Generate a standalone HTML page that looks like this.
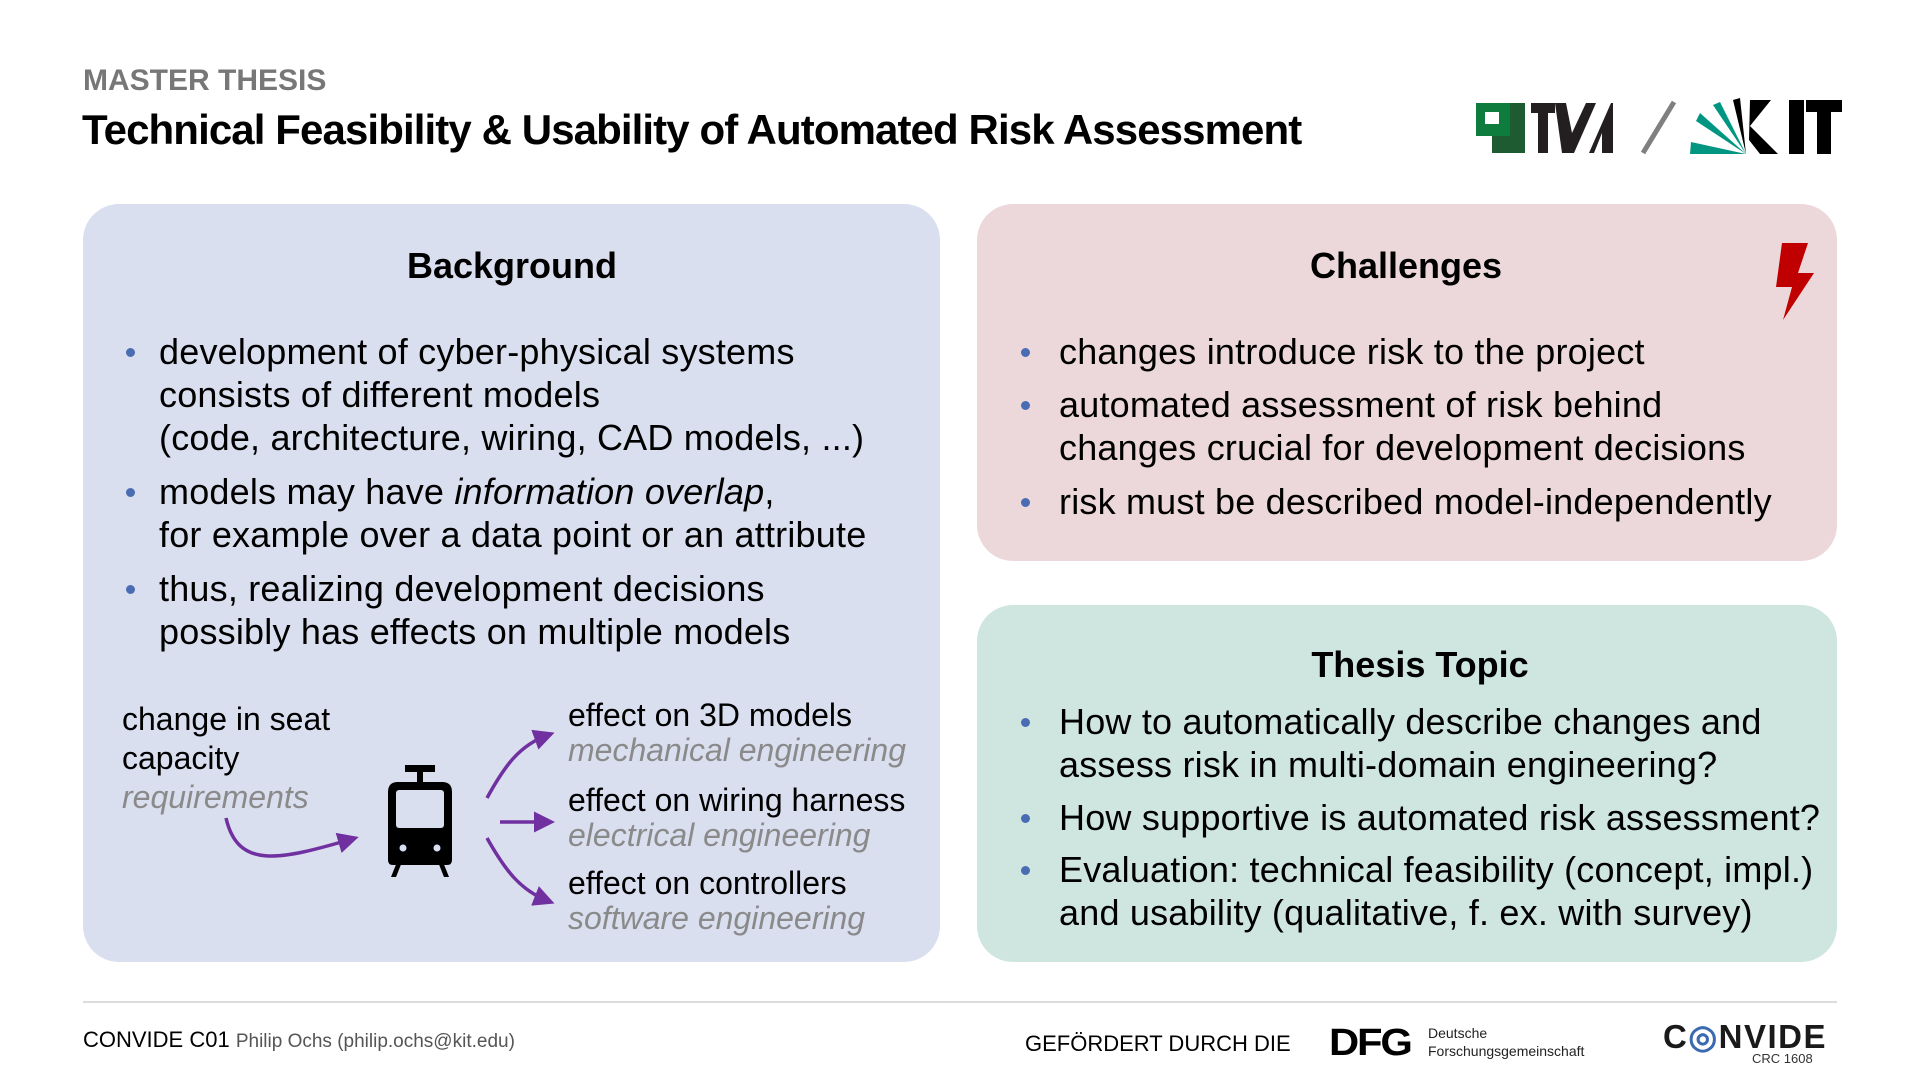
<!DOCTYPE html>
<html><head><meta charset="utf-8"><style>
body{margin:0;width:1920px;height:1080px;background:#fff;position:relative;overflow:hidden;font-family:"Liberation Sans",sans-serif;color:#000}
.a{position:absolute;white-space:nowrap}
.box{position:absolute;border-radius:36px}
.h{font-weight:bold;font-size:36px;transform:translateX(-50%)}
.t{font-size:36px;line-height:43px;letter-spacing:0.2px}
.d{position:absolute;width:9px;height:9px;border-radius:50%;background:#4a6cb3}
.g{color:#8a8a8a;font-style:italic}
.s{font-size:32px}
</style></head><body>
<div class="a" style="left:83px;top:64px;font-size:30px;font-weight:bold;color:#777">MASTER THESIS</div>
<div class="a" style="left:82px;top:106px;font-size:42px;font-weight:bold;letter-spacing:-0.9px">Technical Feasibility &amp; Usability of Automated Risk Assessment</div>

<div class="box" style="left:83px;top:204px;width:857px;height:758px;background:#dadfef"></div>
<div class="box" style="left:977px;top:204px;width:860px;height:357px;background:#ecd8da"></div>
<div class="box" style="left:977px;top:605px;width:860px;height:357px;background:#cfe5df"></div>

<div class="a h" style="left:512px;top:245px">Background</div>
<div class="a t" style="left:159px;top:330px">development of cyber-physical systems<br>consists of different models<br>(code, architecture, wiring, CAD models, ...)</div>
<div class="a t" style="left:159px;top:470px">models may have <i>information overlap</i>,<br>for example over a data point or an attribute</div>
<div class="a t" style="left:159px;top:567px">thus, realizing development decisions<br>possibly has effects on multiple models</div>
<div class="d" style="left:126px;top:348px"></div><div class="d" style="left:126px;top:488px"></div><div class="d" style="left:126px;top:585px"></div>

<div class="a h" style="left:1406px;top:245px">Challenges</div>
<div class="a t" style="left:1059px;top:330px">changes introduce risk to the project</div>
<div class="a t" style="left:1059px;top:383px">automated assessment of risk behind<br>changes crucial for development decisions</div>
<div class="a t" style="left:1059px;top:480px">risk must be described model-independently</div>
<div class="d" style="left:1021px;top:348px"></div><div class="d" style="left:1021px;top:401px"></div><div class="d" style="left:1021px;top:498px"></div>

<div class="a h" style="left:1420px;top:644px">Thesis Topic</div>
<div class="a t" style="left:1059px;top:700px">How to automatically describe changes and<br>assess risk in multi-domain engineering?</div>
<div class="a t" style="left:1059px;top:796px">How supportive is automated risk assessment?</div>
<div class="a t" style="left:1059px;top:848px">Evaluation: technical feasibility (concept, impl.)<br>and usability (qualitative, f. ex. with survey)</div>
<div class="d" style="left:1021px;top:718px"></div><div class="d" style="left:1021px;top:814px"></div><div class="d" style="left:1021px;top:866px"></div>

<div class="a s" style="left:122px;top:700px;line-height:39px">change in seat<br>capacity<br><span class="g">requirements</span></div>
<div class="a s" style="left:568px;top:698px;line-height:35px">effect on 3D models<br><span class="g">mechanical engineering</span></div>
<div class="a s" style="left:568px;top:783px;line-height:35px">effect on wiring harness<br><span class="g">electrical engineering</span></div>
<div class="a s" style="left:568px;top:866px;line-height:35px">effect on controllers<br><span class="g">software engineering</span></div>

<svg class="a" style="left:0;top:0" width="1920" height="1080">
<defs><marker id="ar" markerWidth="6" markerHeight="6" refX="4" refY="3" orient="auto"><path d="M0,0L6,3L0,6z" fill="#7030a0"/></marker></defs>
<g stroke="#7030a0" stroke-width="3.5" fill="none" marker-end="url(#ar)">
<path d="M226,818 C238,870 280,860 352,839"/>
<path d="M487,798 C505,765 520,745 548,735"/>
<path d="M500,822 L548,822"/>
<path d="M487,838 C505,870 520,890 548,901"/>
</g>
<g fill="#000">
<rect x="405" y="765" width="30" height="7"/><rect x="417" y="770" width="6" height="12"/>
<path d="M398,782 h44 q10,0 10,10 v68 q0,5 -5,5 h-54 q-5,0 -5,-5 v-68 q0,-10 10,-10z"/>
<path d="M397,862 l-6,15 h5 l6,-15z M443,862 l6,15 h-5 l-6,-15z"/>
</g>
<rect x="396" y="790" width="48" height="38" rx="3" fill="#dadfef"/>
<circle cx="403" cy="848" r="3.5" fill="#dadfef"/><circle cx="437" cy="848" r="3.5" fill="#dadfef"/>
<path d="M1782,243 L1808,243 L1798,273 L1814,273 L1783,320 L1792,287 L1776,287 z" fill="#c00000"/>
<rect x="1476" y="103" width="34" height="33" fill="#0e7c3c"/><rect x="1485" y="112" width="14" height="12" fill="#fff"/>
<path d="M1492,136 h18 v-33 h15 v50 h-33z" fill="#1e5b30"/>
<g fill="#231f20">
<rect x="1531" y="103" width="24" height="10"/><rect x="1538" y="103" width="10" height="50"/>
<path d="M1555,103 h11 l6,30 l14,-30 h10 l-22,50 h-12z"/>
<path d="M1589,153 l22,-50 h2 v50 h-11 v-20 l-8,20z"/>
</g>
<line x1="1643" y1="153" x2="1674" y2="102" stroke="#808080" stroke-width="5"/>
<g fill="#009682">
<path d="M1746,154 L1690,154 L1691,142z"/><path d="M1746,154 L1696,121 L1700,113z"/><path d="M1746,154 L1713,105 L1720,102z"/><path d="M1746,154 L1733,100 L1740,98z" fill="#000"/>
</g>
<g fill="#000">
<path d="M1750,100 L1771,100 L1750,126 L1778,154 L1760,154 L1749,140z"/>
<rect x="1789" y="100" width="15" height="54"/>
<rect x="1806" y="100" width="36" height="12"/><rect x="1817" y="100" width="14" height="54"/>
</g>
<line x1="83" y1="1002" x2="1837" y2="1002" stroke="#dcdcdc" stroke-width="2"/>
</svg>

<div class="a" style="left:83px;top:1027px;font-size:22px">CONVIDE C01 <span style="font-size:19px;color:#555">Philip Ochs (philip.ochs@kit.edu)</span></div>
<div class="a" style="left:1025px;top:1031px;font-size:22px">GEFÖRDERT DURCH DIE</div>
<div class="a" style="left:1329px;top:1022px;font-size:38px;font-weight:bold;letter-spacing:-2px;transform:scaleX(1.1);transform-origin:left">DFG</div>
<div class="a" style="left:1428px;top:1024px;font-size:14px;line-height:18px;color:#222">Deutsche<br>Forschungsgemeinschaft</div>
<div class="a" style="left:1663px;top:1017px;font-size:33px;font-weight:bold;letter-spacing:1.5px;color:#1a1a1a">C<span style="color:#3a6ab0">◎</span>NVIDE</div>
<div class="a" style="left:1752px;top:1051px;font-size:13px;color:#333">CRC 1608</div>
</body></html>
